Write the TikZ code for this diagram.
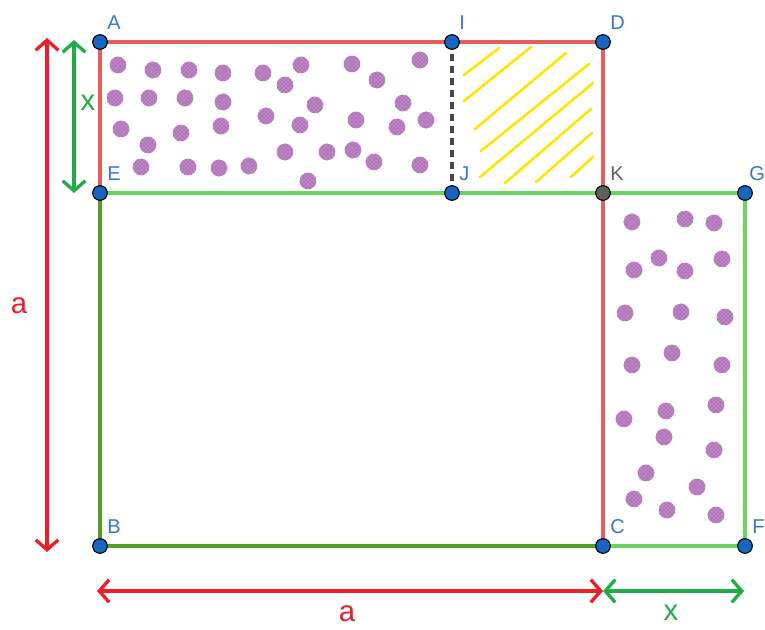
\documentclass[tikz,border=0pt]{standalone}
\usepackage{fontspec}
\setmainfont{Liberation Sans}
\usetikzlibrary{arrows.meta,patterns}
\definecolor{edgered}{RGB}{228,94,94}
\definecolor{lightgreen}{RGB}{104,214,96}
\definecolor{darkgreen}{RGB}{84,158,40}
\definecolor{arrred}{RGB}{237,30,40}
\definecolor{arrgreen}{RGB}{34,172,72}
\definecolor{ptblue}{RGB}{22,101,192}
\definecolor{labblue}{RGB}{52,120,204}
\definecolor{kgray}{RGB}{96,96,96}
\definecolor{dashgray}{RGB}{72,72,72}
\definecolor{dotpurple}{RGB}{145,55,155}
\definecolor{hatchyellow}{RGB}{255,228,0}
\begin{document}
\begin{tikzpicture}[x=.75pt,y=-.75pt,font=\fontsize{15}{18}\selectfont,
 pt/.style={circle,draw=black,line width=.8pt,fill=ptblue,inner sep=0pt,minimum size=11pt},
 lab/.style={anchor=base west,inner sep=0pt,text=labblue},
 dot/.style={fill=dotpurple!60,postaction={pattern=crosshatch dots,pattern color=dotpurple}},
 hatch/.style={hatchyellow,line width=1.9pt,line cap=round},
 side/.style={line width=2.8pt},
 dim/.style={line width=2.5pt,{Straight Barb[length=7.5pt,width=17pt]}-{Straight Barb[length=7.5pt,width=17pt]}},
 dimlab/.style={font=\fontsize{22}{26}\selectfont,inner sep=0pt}]
\useasboundingbox (0,0) rectangle (765,630);
\foreach \n/\x/\y in {A/100/42,I/452/42,D/603/42,E/100/193,J/452/193,K/603/193,G/745/193,B/100/546,C/603/546,F/745/546}{\coordinate (\n) at (\x,\y);}
\foreach \x/\y in {118/65,153/70,189/70,223/73,263/73,301/65,285/85,352/64,377/80,420/60,115/98,149/98,185/98,223/102,266/116,315/105,300/125,356/120,403/103,397/127,426/120,121/129,148/145,181/133,221/126,285/152,327/152,353/150,374/162,420/165,141/167,188/167,219/168,249/166,308/181}{\path[dot] (\x,\y) circle[radius=6.3pt];}
\foreach \x/\y in {632/222,685/219,714/223,659/258,634/270,685/271,722/259,625/313,681/312,725/317,672/353,632/365,722/365,666/411,716/405,624/419,664/437,714/450,646/473,697/487,634/499,667/510,716/515}{\path[dot] (\x,\y) circle[radius=6.3pt];}
\foreach \xa/\ya/\xb/\yb in {464/75/499/48,464/101/531/47,475/129/566/53,481/151/589/64,480/177/593/83,505/183/591/109,536/182/592/133,571/177/593/157}{\draw[hatch] (\xa,\ya) -- (\xb,\yb);}
\draw[side,lightgreen] (E) -- (G) -- (F) -- (C);
\draw[side,darkgreen] (E) -- (B) -- (C);
\draw[side,edgered] (E) -- (A) -- (D) -- (K) -- (C);
\draw[dashgray,line width=2.6pt,dash pattern=on 5.5pt off 3.5pt] (I) -- (J);
\coordinate (ra) at (47,38); \coordinate (rb) at (47,552);
\coordinate (ga) at (74,40); \coordinate (gb) at (74,193);
\coordinate (ha) at (97,591); \coordinate (hb) at (603,591); \coordinate (hc) at (744,591);
\draw[dim,arrred] (ra) -- (rb);
\draw[dim,arrgreen] (ga) -- (gb);
\draw[dim,arrred] (ha) -- (hb);
\draw[dim,arrgreen] (hb) -- (hc);
\node[dimlab,text=arrred] (la) at (19,306) {a};
\node[dimlab,text=arrgreen] (lx) at (88,103) {x};
\node[dimlab,text=arrred] (lb) at (347,614) {a};
\node[dimlab,text=arrgreen] (ly) at (671,613) {x};
\foreach \n in {A,I,D,E,J,B,C,F}{\node[pt] (p\n) at (\n) {}; \node[lab] (l\n) at ([shift={(7,-12)}]\n) {\n};}
\node[pt] (pG) at (G) {};
\node[lab] (lG) at ([shift={(4,-12)}]G) {G};
\node[pt,fill=kgray] (pK) at (K) {};
\node[lab,text=kgray] (lK) at ([shift={(7,-12)}]K) {K};
\end{tikzpicture}
\end{document}
